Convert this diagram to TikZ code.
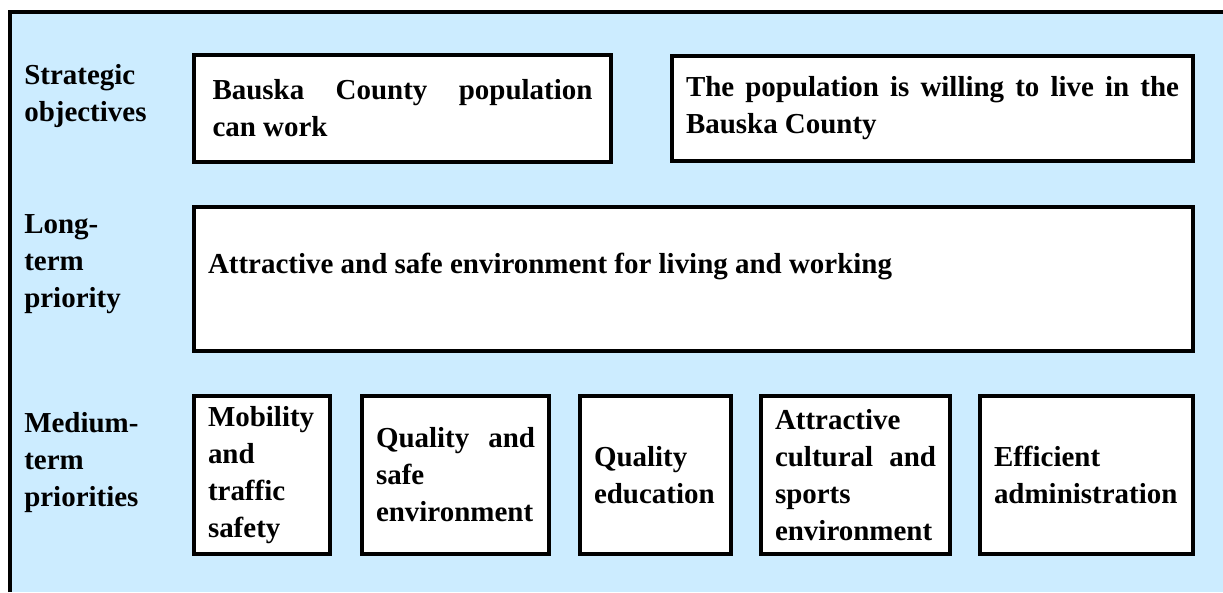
\documentclass[tikz,border=0pt]{standalone}
\usepackage{fontspec}
\setmainfont{Liberation Serif}
\definecolor{panelblue}{RGB}{204,236,255}
\tolerance=10000
\hbadness=10000
\hyphenpenalty=10000
\tikzset{
  txt/.style={font=\bfseries\fontsize{20.6}{26.3}\selectfont},
  goalbox/.style={txt, draw, fill=white, line width=0.1cm, align=justify, inner xsep=0.35cm},
  prio/.style={goalbox, minimum height=3.95cm},
  rowlabel/.style={txt, anchor=north west, inner sep=0pt, align=left}
}
\begin{document}
\begin{tikzpicture}
\useasboundingbox (0,0) rectangle (30.575,-14.8);
% Panel
\fill[panelblue] (0.25,-0.3) rectangle (30.575,-14.8);
\draw[line width=0.1cm] (0.25,-14.8) -- (0.25,-0.3) -- (30.575,-0.3);
% Row labels
\node[rowlabel] (strat) at (0.6,-1.6) {Strategic\\objectives};
\node[rowlabel] (long) at (0.6,-5.35) {Long-\\term\\priority};
\node[rowlabel] (medium) at (0.6,-10.3) {Medium-\\term\\priorities};
% Strategic objectives
\node[goalbox, minimum width=10.425cm, minimum height=2.675cm, text width=9.5cm] (work) at (10.0625,-2.7125) {Bauska County population\linebreak can work};
\node[goalbox, minimum width=13.025cm, minimum height=2.625cm, text width=12.325cm] (live) at (23.3125,-2.7125) {The population is willing to live in the\linebreak Bauska County};
% Long-term priority
\node[goalbox, minimum width=24.975cm, minimum height=3.6cm, text width=24.275cm, text depth=0.8cm] (env) at (17.3375,-6.975) {Attractive and safe environment for living and working};
% Medium-term priorities
\node[prio, minimum width=3.4cm, text width=2.7cm] (mobility) at (6.55,-11.875) {Mobility\\and\\traffic\\safety};
\node[prio, minimum width=4.675cm, text width=3.975cm] (safeenv) at (11.3875,-11.875) {Quality and\linebreak safe\\environment};
\node[prio, minimum width=3.775cm, text width=3.075cm] (education) at (16.3875,-11.875) {Quality\\education};
\node[prio, minimum width=4.725cm, text width=4.025cm] (culture) at (21.3875,-11.875) {Attractive\\cultural and\linebreak sports\\environment};
\node[prio, minimum width=5.325cm, text width=4.625cm] (admin) at (27.1625,-11.875) {Efficient\\administration};
\end{tikzpicture}
\end{document}
